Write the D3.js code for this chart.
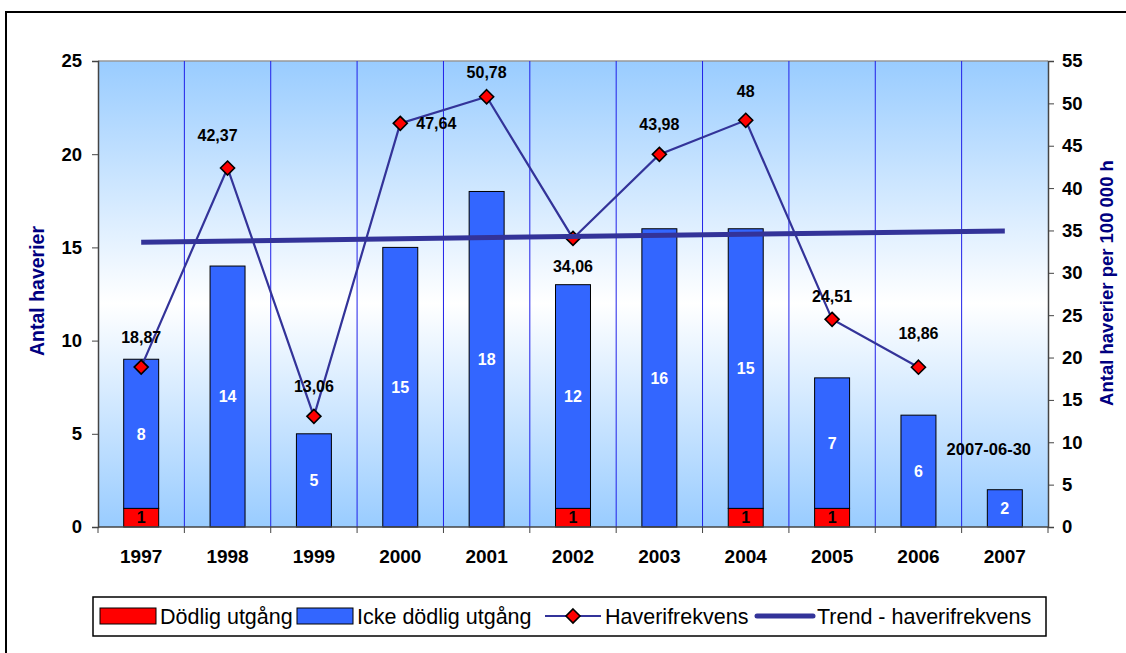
<!DOCTYPE html>
<html><head><meta charset="utf-8">
<script src="https://cdn.jsdelivr.net/npm/d3@7"></script>
<style>
html,body{margin:0;padding:0;background:#fff;}
svg{display:block;font-family:Arial,"Liberation Sans",sans-serif;}
</style></head>
<body>
<svg id="chart" width="1126" height="653"></svg>
<script>
// ---- data ----
const years = ["1997","1998","1999","2000","2001","2002","2003","2004","2005","2006","2007"];
const fatal = [1,0,0,0,0,1,0,1,1,0,0];
const nonFatal = [8,14,5,15,18,12,16,15,7,6,2];
const frequency = [18.87,42.37,13.06,47.64,50.78,34.06,43.98,48,24.51,18.86,null];
const trendYears = ["1997","2007"];
const trendValues = [33.62,34.95];
const leftTicks = [0,5,10,15,20,25];
const rightTicks = [0,5,10,15,20,25,30,35,40,45,50,55];
const legendLabels = ["Dödlig utgång","Icke dödlig utgång","Haverifrekvens","Trend - haverifrekvens"];
const noteText = "2007-06-30";
// label placement (style)
const freqLabelOffset = [[0,-30],[-10,-33],[0,-30],[36,0],[0,-25],[0,28],[0,-30],[0,-29],[0,-23],[0,-34]];

const svg = d3.select("#chart");
const W = 1126, H = 653;
const pL = 98, pR = 1048, pT = 61, pB = 527;

// outer frame
svg.append("path").attr("d",`M6,${H+2} L6,12 L${W+2},12`).attr("fill","none").attr("stroke","#000").attr("stroke-width",2);

const defs = svg.append("defs");
const grad = defs.append("linearGradient").attr("id","bg").attr("x1",0).attr("y1",0).attr("x2",0).attr("y2",1);
grad.append("stop").attr("offset","0%").attr("stop-color","#99CCFF");
grad.append("stop").attr("offset","52%").attr("stop-color","#FFFFFF");
grad.append("stop").attr("offset","100%").attr("stop-color","#99CCFF");

const x = d3.scaleBand().domain(years).range([pL,pR]).paddingInner(0.595).paddingOuter(0.2975);
const yL = d3.scaleLinear().domain([0,25]).range([pB,pT]);
const yR = d3.scaleLinear().domain([0,55]).range([pB,pT]);
const step = x.step();

svg.append("rect").attr("x",pL).attr("y",pT).attr("width",pR-pL).attr("height",pB-pT).attr("fill","url(#bg)");
svg.append("line").attr("x1",pL).attr("x2",pR).attr("y1",pT).attr("y2",pT).attr("stroke","#999").attr("stroke-width",1.5);

// vertical gridlines at category boundaries
const bounds = d3.range(1,years.length).map(i=>pL+i*step);
svg.selectAll(".vg").data(bounds).join("line").attr("class","vg")
  .attr("x1",d=>d).attr("x2",d=>d).attr("y1",pT).attr("y2",pB)
  .attr("stroke","#2020E8").attr("stroke-width",1);

// bars
const bars = svg.append("g");
years.forEach((yr,i)=>{
  const xb = x(yr), bw = x.bandwidth();
  if(fatal[i]>0){
    bars.append("rect").attr("x",xb).attr("y",yL(fatal[i])).attr("width",bw).attr("height",yL(0)-yL(fatal[i]))
      .attr("fill","#FF0000").attr("stroke","#000").attr("stroke-width",1);
  }
  bars.append("rect").attr("x",xb).attr("y",yL(fatal[i]+nonFatal[i])).attr("width",bw).attr("height",yL(fatal[i])-yL(fatal[i]+nonFatal[i]))
    .attr("fill","#3366FF").attr("stroke","#000").attr("stroke-width",1);
});
// bar labels
years.forEach((yr,i)=>{
  const cx = x(yr)+x.bandwidth()/2;
  if(fatal[i]>0){
    svg.append("text").attr("x",cx).attr("y",yL(fatal[i]/2)).attr("dy","0.36em").attr("text-anchor","middle")
      .attr("font-size",16).attr("font-weight","bold").attr("fill","#000").text(fatal[i]);
  }
  svg.append("text").attr("x",cx).attr("y",yL(fatal[i]+nonFatal[i]/2)).attr("dy","0.36em").attr("text-anchor","middle")
    .attr("font-size",16).attr("font-weight","bold").attr("fill","#fff").text(nonFatal[i]);
});

// axes
const axL = svg.append("g").attr("transform",`translate(${pL},0)`)
  .call(d3.axisLeft(yL).tickValues(leftTicks).tickSize(6).tickPadding(10));
const axR = svg.append("g").attr("transform",`translate(${pR},0)`)
  .call(d3.axisRight(yR).tickValues(rightTicks).tickSize(6).tickPadding(8));
[axL,axR].forEach(a=>{
  a.select(".domain").attr("stroke","#444").attr("stroke-width",1.5);
  a.selectAll(".tick line").attr("stroke","#444");
  a.selectAll("text").attr("font-size",18.5).attr("font-weight","bold").attr("fill","#000").attr("font-family","Arial, 'Liberation Sans', sans-serif");
});
// x axis
svg.append("line").attr("x1",pL).attr("x2",pR).attr("y1",pB).attr("y2",pB).attr("stroke","#444").attr("stroke-width",1.5);
svg.selectAll(".xt").data(d3.range(0,years.length+1).map(i=>pL+i*step)).join("line").attr("class","xt")
  .attr("x1",d=>d).attr("x2",d=>d).attr("y1",pB).attr("y2",pB+6).attr("stroke","#444");
svg.selectAll(".xl").data(years).join("text").attr("class","xl")
  .attr("x",d=>x(d)+x.bandwidth()/2).attr("y",pB+29).attr("dy","0.36em").attr("text-anchor","middle")
  .attr("font-size",19).attr("font-weight","bold").text(d=>d);

// axis titles
svg.append("text").attr("transform","translate(44,291) rotate(-90)").attr("text-anchor","middle")
  .attr("font-size",19.5).attr("font-weight","bold").attr("fill","#000080").text("Antal haverier");
svg.append("text").attr("transform","translate(1113,283) rotate(-90)").attr("text-anchor","middle")
  .attr("font-size",18.5).attr("font-weight","bold").attr("fill","#000080").text("Antal haverier per 100 000 h");

// frequency line
const pts = years.map((yr,i)=>({yr,v:frequency[i],i})).filter(d=>d.v!==null);
const line = d3.line().x(d=>x(d.yr)+x.bandwidth()/2).y(d=>yR(d.v));
svg.append("path").datum(pts).attr("d",line).attr("fill","none").attr("stroke","#333399").attr("stroke-width",2.2);
svg.selectAll(".mk").data(pts).join("path").attr("class","mk")
  .attr("transform",d=>`translate(${x(d.yr)+x.bandwidth()/2},${yR(d.v)})`)
  .attr("d","M0,-7 L7,0 L0,7 L-7,0 Z").attr("fill","#FF0000").attr("stroke","#000").attr("stroke-width",1.6);

// trend line
const tline = d3.line().x(d=>x(d[0])+x.bandwidth()/2).y(d=>yR(d[1]));
svg.append("path").datum(trendYears.map((t,i)=>[t,trendValues[i]])).attr("d",tline)
  .attr("fill","none").attr("stroke","#333399").attr("stroke-width",5);

// frequency labels
svg.selectAll(".fl").data(pts).join("text").attr("class","fl")
  .attr("x",d=>x(d.yr)+x.bandwidth()/2+freqLabelOffset[d.i][0])
  .attr("y",d=>yR(d.v)+freqLabelOffset[d.i][1]).attr("dy","0.36em").attr("text-anchor","middle")
  .attr("font-size",16).attr("font-weight","bold").attr("fill","#000")
  .text(d=>String(d.v).replace(".",","));

// note
svg.append("text").attr("x",x("2007")+x.bandwidth()/2-16).attr("y",yL(4.2)).attr("dy","0.36em").attr("text-anchor","middle")
  .attr("font-size",16.5).attr("font-weight","bold").text(noteText);

// legend
const lg = svg.append("g");
lg.append("rect").attr("x",93).attr("y",597).attr("width",953).attr("height",39).attr("fill","#fff").attr("stroke","#000").attr("stroke-width",1.5);
const legX = [100,297,545,757];
const ly = 616;
lg.append("rect").attr("x",legX[0]).attr("y",ly-8).attr("width",56).attr("height",16).attr("fill","#FF0000").attr("stroke","#000");
lg.append("rect").attr("x",legX[1]).attr("y",ly-8).attr("width",56).attr("height",16).attr("fill","#3366FF").attr("stroke","#000");
lg.append("line").attr("x1",legX[2]).attr("x2",legX[2]+56).attr("y1",ly).attr("y2",ly).attr("stroke","#333399").attr("stroke-width",2.2);
lg.append("path").attr("transform",`translate(${legX[2]+28},${ly})`).attr("d","M0,-7 L7,0 L0,7 L-7,0 Z").attr("fill","#FF0000").attr("stroke","#000").attr("stroke-width",1.6);
lg.append("line").attr("x1",legX[3]).attr("x2",legX[3]+56).attr("y1",ly).attr("y2",ly).attr("stroke","#333399").attr("stroke-width",5).attr("stroke-linecap","round");
legendLabels.forEach((t,i)=>{
  lg.append("text").attr("x",legX[i]+60).attr("y",ly).attr("dy","0.36em").attr("font-size",21.5).attr("fill","#000").text(t);
});
</script>
</body></html>
